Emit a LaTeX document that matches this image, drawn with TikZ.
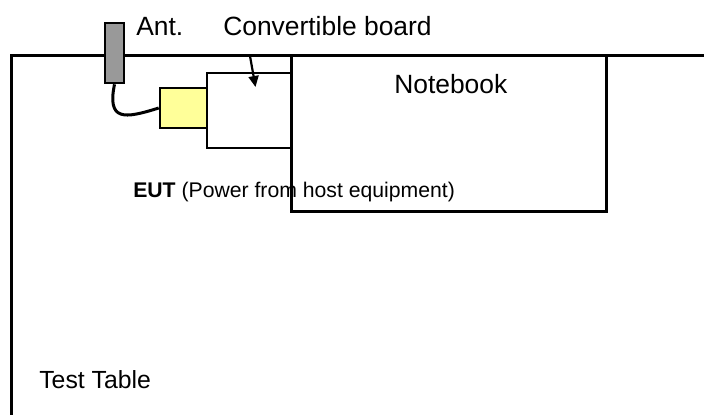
\documentclass[tikz,border=0pt]{standalone}
\usepackage{fontspec}
\setmainfont{Liberation Sans}
\usetikzlibrary{arrows.meta}
\definecolor{dongleyellow}{HTML}{FFFF99}
\definecolor{antgray}{HTML}{999999}
\begin{document}
\begin{tikzpicture}[x=1pt,y=-1pt,line width=2.6pt,
  box/.style={draw,rectangle,inner sep=0pt},
  lbl/.style={anchor=base west,inner sep=0pt,font=\fontsize{26.4}{30}\selectfont}]
\useasboundingbox(0,0)rectangle(704,415);
% table
\draw[line width=3pt](704,55)--(11,55)--(11,415);
\node[lbl,font=\fontsize{24.8}{30}\selectfont](tbl)at(38,388){Test Table};
% EUT parts
\node[box,fill=antgray,minimum width=19pt,minimum height=60pt](ant)at(114.5,53){};
\node[box,fill=dongleyellow,minimum width=47pt,minimum height=40pt](dongle)at(183.5,108){};
\node[box,minimum width=84pt,minimum height=75pt](board)at(249,110.5){};
\draw[line width=3pt](ant.south).. controls(107,121)and(124,119)..(dongle.west);
\node[lbl](antlbl)at(135,35){Ant.};
\node[lbl](brdlbl)at(222,35){Convertible board};
\node[lbl,font=\fontsize{21.2}{26}\selectfont](eut)at(132,197){\textbf{EUT} (Power from host equipment)};
\node[box,line width=3pt,minimum width=315pt,minimum height=156pt](nb)at(448.5,133){};
\node[lbl](nblbl)at(393,93){Notebook};
\coordinate(brdtail)at(250,56);
\coordinate(brdtip)at(255.5,87);
\draw[line width=2.2pt,-{Triangle[length=11pt,width=10pt]}](brdtail)--(brdtip);
\end{tikzpicture}
\end{document}
